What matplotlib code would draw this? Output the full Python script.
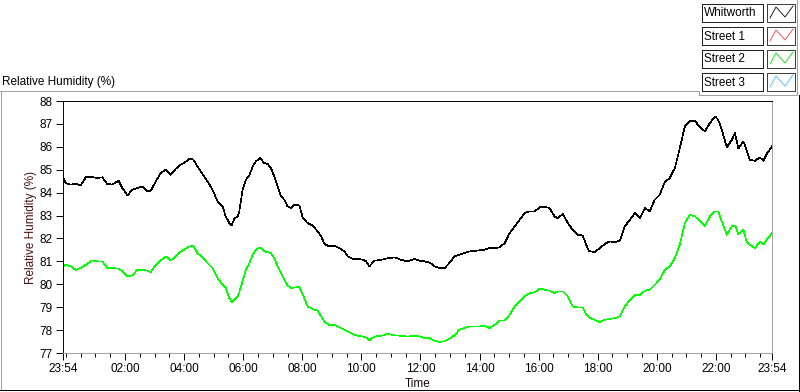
import matplotlib
matplotlib.use("Agg")
import matplotlib.pyplot as plt
from matplotlib.lines import Line2D
from matplotlib.patches import Rectangle

# hours since 23:54 (start of the record)
hours = [0, 0.09, 0.26, 0.43, 0.6, 0.77, 0.99, 1.16, 1.33, 1.5, 1.67, 1.88, 2.01, 2.18, 2.35,
         2.52, 2.69, 2.86, 2.97, 3.14, 3.31, 3.48, 3.65, 3.82, 3.99, 4.1, 4.27, 4.41, 4.55, 4.72,
         4.89, 5.06, 5.23, 5.4, 5.51, 5.63, 5.71, 5.8, 5.91, 5.97,
         6.08, 6.19, 6.31, 6.42, 6.53, 6.68, 6.81, 6.93, 7.04, 7.15, 7.27, 7.38, 7.49, 7.6, 7.72,
         7.83, 8.0, 8.12, 8.28, 8.45, 8.62, 8.74, 8.85, 9.02, 9.19, 9.36, 9.53, 9.64, 9.81, 9.98,
         10.15, 10.26, 10.37, 10.54, 10.77, 11.0, 11.22, 11.45, 11.67, 11.9,
         12.07, 12.24, 12.41, 12.58, 12.75, 12.92, 13.08, 13.25, 13.42, 13.59, 13.76, 13.93, 14.1,
         14.27, 14.44, 14.61, 14.78, 14.95, 15.12, 15.29, 15.46, 15.63, 15.8, 15.97, 16.14, 16.31,
         16.47, 16.64, 16.75, 16.92, 17.09, 17.25, 17.42, 17.59, 17.71, 17.8,
         18.0, 18.17, 18.34, 18.51, 18.68, 18.85, 19.02, 19.19, 19.36, 19.53, 19.7, 19.86, 20.03,
         20.2, 20.37, 20.54, 20.71, 20.88, 21.05, 21.22, 21.39, 21.56, 21.73, 21.9, 22.07, 22.18,
         22.3, 22.47, 22.64, 22.75, 22.86, 23.03, 23.14, 23.25, 23.42, 23.59, 23.71, 23.82, 24.0]

whitworth = [84.71, 84.42, 84.35, 84.38, 84.32, 84.67, 84.68, 84.64, 84.67, 84.38, 84.35, 84.52,
             84.2, 83.88, 84.13, 84.2, 84.27, 84.06, 84.08, 84.49, 84.86, 85.0, 84.78, 85.05,
             85.22, 85.29, 85.47, 85.45, 85.15, 84.81, 84.49, 84.13, 83.62, 83.4, 82.96, 82.67,
             82.57, 82.86, 82.96, 83.2,
             84.13, 84.56, 84.75, 85.15, 85.37, 85.51, 85.29, 85.25, 85.07, 84.71, 84.27, 83.84,
             83.69, 83.4, 83.33, 83.47, 83.44, 82.89, 82.67, 82.56, 82.31, 82.09, 81.76, 81.65,
             81.68, 81.58, 81.43, 81.22, 81.11, 81.11, 81.07, 81.0, 80.78, 81.03, 81.07, 81.14,
             81.17, 81.07, 81.0, 81.11,
             81.03, 81.0, 80.95, 80.78, 80.71, 80.71, 80.93, 81.22, 81.29, 81.36, 81.43, 81.46,
             81.48, 81.51, 81.58, 81.58, 81.61, 81.8, 82.24, 82.53, 82.82, 83.11, 83.18, 83.18,
             83.37, 83.37, 83.33, 82.96, 82.89, 83.07, 82.67, 82.38, 82.16, 82.13, 81.73, 81.46,
             81.4, 81.58, 81.76, 81.87, 81.84, 81.9, 82.53, 82.82, 83.11, 82.89, 83.33, 83.18,
             83.69, 83.91, 84.46, 84.64, 85.07, 85.95, 86.89, 87.14, 87.14, 86.85, 86.68, 87.04,
             87.33, 87.18, 86.75, 85.98, 86.31, 86.6, 85.92, 86.24, 85.87, 85.44, 85.39, 85.54,
             85.39, 85.69, 86.02]

street2 = [80.78, 80.85, 80.78, 80.63, 80.71, 80.85, 81.04, 81.0, 81.0, 80.71, 80.71, 80.68,
           80.56, 80.34, 80.39, 80.63, 80.63, 80.59, 80.53, 80.85, 81.04, 81.22, 81.04, 81.22,
           81.43, 81.51, 81.65, 81.68, 81.36, 81.17, 80.93, 80.71, 80.27, 79.98, 79.83, 79.4,
           79.22, 79.32, 79.47, 79.66,
           80.15, 80.63, 80.93, 81.29, 81.51, 81.61, 81.43, 81.41, 81.36, 81.14, 80.78, 80.49,
           80.2, 79.95, 79.83, 79.86, 79.88, 79.54, 79.03, 78.93, 78.84, 78.6, 78.38, 78.2,
           78.23, 78.12, 78.01, 77.94, 77.83, 77.75, 77.72, 77.68, 77.55, 77.72, 77.75, 77.83,
           77.77, 77.75, 77.72, 77.75,
           77.72, 77.65, 77.65, 77.53, 77.48, 77.51, 77.62, 77.77, 78.01, 78.09, 78.16, 78.16,
           78.16, 78.19, 78.09, 78.23, 78.41, 78.42, 78.67, 79.03, 79.25, 79.47, 79.62, 79.64,
           79.81, 79.76, 79.72, 79.62, 79.69, 79.69, 79.47, 79.03, 78.99, 78.99, 78.7, 78.55,
           78.45, 78.35, 78.45, 78.49, 78.52, 78.6, 79.03, 79.32, 79.54, 79.54, 79.72, 79.76,
           79.98, 80.2, 80.63, 80.78, 81.14, 81.73, 82.67, 83.04, 82.96, 82.77, 82.53, 82.96,
           83.18, 83.18, 82.74, 82.16, 82.53, 82.57, 82.19, 82.38, 81.87, 81.73, 81.58, 81.87,
           81.73, 81.94, 82.23]

tick_hours = [0, 2.1, 4.1, 6.1, 8.1, 10.1, 12.1, 14.1, 16.1, 18.1, 20.1, 22.1, 24]
tick_labels = ["23:54", "02:00", "04:00", "06:00", "08:00", "10:00", "12:00",
               "14:00", "16:00", "18:00", "20:00", "22:00", "23:54"]
minor_hours = [0.1 + 0.5 * k for k in range(48)]

legend_names = ["Whitworth", "Street 1", "Street 2", "Street 3"]
legend_colors = ["black", "#ff3c3c", "#00e000", "#40b8ff"]

plt.rcParams['font.family'] = ['Liberation Sans', 'DejaVu Sans']
plt.rcParams['font.size'] = 8.5

W, H = 800, 392
fig = plt.figure(figsize=(8, 3.92), dpi=100)


def fx(x):
    return x / W


def fy(y):
    return 1 - y / H


LW = 0.7  # ~1 px

ax = fig.add_axes([fx(63), fy(353), (772 - 63) / W, (353 - 101) / H])
ax.plot(hours, whitworth, color='black', lw=0.45, antialiased=False)
ax.plot(hours, street2, color='#00ff00', lw=0.45, antialiased=False)

ax.set_xlim(0, 24)
ax.set_ylim(77, 88)
ax.set_yticks(range(77, 89))
ax.set_xticks(tick_hours)
ax.set_xticklabels(tick_labels)
ax.set_xticks(minor_hours, minor=True)
ax.tick_params(which='major', length=5, width=LW, pad=2.5)
ax.tick_params(which='minor', length=3, width=LW)

for side in ['top', 'left']:
    ax.spines[side].set_color('black')
    ax.spines[side].set_linewidth(LW)
for side in ['right', 'bottom']:
    ax.spines[side].set_color('#a0a0a0')
    ax.spines[side].set_linewidth(LW)

ax.set_ylabel('Relative Humidity (%)', color='#4a1010')
ax.yaxis.set_label_coords(-0.037, 0.5)
ax.set_xlabel('Time', color='#1a0a0a')
ax.xaxis.set_label_coords(0.5, -0.1)

fig.text(fx(2), fy(82), 'Relative Humidity (%)', ha='left', va='center')

# panel frame
gray = '#a0a0a0'
frame = [
    ([0, 699], [91, 91], gray),
    ([1, 1], [91, 390], gray),
    ([699, 699], [91, 95], gray),
    ([699, 797], [95, 95], gray),
    ([797, 797], [0, 95], gray),
    ([799, 799], [95, 391], 'black'),
    ([0, 800], [390, 390], 'black'),
]
for xs, ys, c in frame:
    fig.add_artist(Line2D([fx(v) for v in xs], [fy(v) for v in ys], color=c, lw=LW,
                          transform=fig.transFigure, antialiased=False))

# plot legend
for i, (name, c) in enumerate(zip(legend_names, legend_colors)):
    top = 4 + 23 * i
    fig.add_artist(Rectangle((fx(702), fy(top + 18)), 61 / W, 18 / H, fill=False,
                             edgecolor='#202020', lw=LW, antialiased=False,
                             transform=fig.transFigure))
    fig.add_artist(Rectangle((fx(767), fy(top + 18)), 28 / W, 18 / H, fill=False,
                             edgecolor='#404040', lw=LW, antialiased=False,
                             transform=fig.transFigure))
    fig.text(fx(704), fy(top + 9.5), name, ha='left', va='center')
    fig.add_artist(Line2D([fx(770), fx(776), fx(785), fx(793)],
                          [fy(top + 14), fy(top + 3), fy(top + 13), fy(top + 2)],
                          color=c, lw=0.6, transform=fig.transFigure))

fig.savefig('out.png', dpi=100)
